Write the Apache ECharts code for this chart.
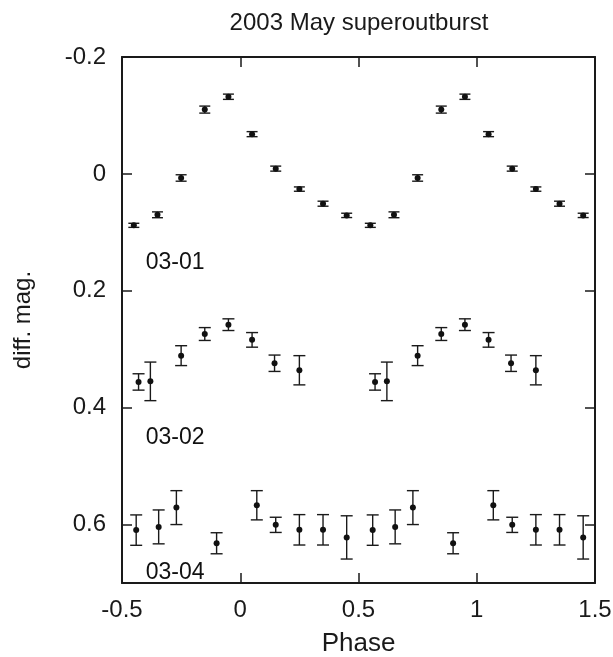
<!DOCTYPE html>
<html>
<head>
<meta charset="utf-8">
<script src="https://cdn.jsdelivr.net/npm/echarts@6/dist/echarts.min.js"></script>
<style>
html,body{margin:0;padding:0;background:#fff;}
#chart{width:613px;height:657px;}
</style>
</head>
<body>
<div id="chart"></div>
<script>
// ---- Data ----
const titleText = '2003 May superoutburst';
const xName = 'Phase';
const yName = 'diff. mag.';
const xTicks = [-0.5, 0, 0.5, 1, 1.5];
const yTicks = [-0.2, 0, 0.2, 0.4, 0.6];

// 2003-03-01
const phase0301 = [-0.45,-0.35,-0.25,-0.15,-0.05,0.05,0.15,0.25,0.35,0.45,0.55,0.65,0.75,0.85,0.95,1.05,1.15,1.25,1.35,1.45];
const mag0301   = [0.088,0.070,0.007,-0.110,-0.132,-0.068,-0.009,0.026,0.051,0.071,0.088,0.070,0.007,-0.110,-0.132,-0.068,-0.009,0.026,0.051,0.071];
const err0301   = [0.0035,0.005,0.0055,0.006,0.0045,0.0043,0.0043,0.0037,0.0043,0.0037,0.0035,0.005,0.0055,0.006,0.0045,0.0043,0.0043,0.0037,0.0043,0.0037];

// 2003-03-02
const phase0302 = [-0.43,-0.38,-0.25,-0.15,-0.05,0.05,0.145,0.25,0.57,0.62,0.75,0.85,0.95,1.05,1.145,1.25];
const mag0302   = [0.356,0.355,0.311,0.274,0.258,0.284,0.324,0.336,0.356,0.355,0.311,0.274,0.258,0.284,0.324,0.336];
const err0302   = [0.014,0.033,0.017,0.011,0.010,0.0125,0.014,0.025,0.014,0.033,0.017,0.011,0.010,0.0125,0.014,0.025];

// 2003-03-04
const phase0304 = [-0.44,-0.345,-0.27,-0.10,0.07,0.15,0.25,0.35,0.45,0.56,0.655,0.73,0.90,1.07,1.15,1.25,1.35,1.45];
const mag0304   = [0.6095,0.604,0.571,0.632,0.567,0.6005,0.609,0.609,0.622,0.6095,0.604,0.571,0.632,0.567,0.6005,0.609,0.609,0.622];
const err0304   = [0.026,0.029,0.029,0.018,0.025,0.013,0.026,0.026,0.037,0.026,0.029,0.029,0.018,0.025,0.013,0.026,0.026,0.037];

const nightLabels = ['03-01','03-02','03-04'];
const nightLabelX = [-0.4,-0.4,-0.4];
const nightLabelY = [0.152,0.452,0.682];

// ---- Build chart ----
const FONT = '"Liberation Sans", Arial, Helvetica, sans-serif';
const INK = '#1a1a1a';

function pts(ph, mg){ return ph.map((p,i)=>[p, mg[i]]); }
function errs(ph, mg, er){ return ph.map((p,i)=>[p, mg[i]-er[i], mg[i]+er[i]]); }

function errorRender(capHalf){
  return function(params, api){
    const x = api.value(0);
    const lo = api.coord([x, api.value(1)]);
    const hi = api.coord([x, api.value(2)]);
    const style = {stroke: INK, lineWidth: 1.4, fill: null};
    return {
      type: 'group',
      children: [
        {type:'line', shape:{x1:lo[0], y1:lo[1], x2:hi[0], y2:hi[1]}, style: style},
        {type:'line', shape:{x1:lo[0]-capHalf, y1:lo[1], x2:lo[0]+capHalf, y2:lo[1]}, style: style},
        {type:'line', shape:{x1:hi[0]-capHalf, y1:hi[1], x2:hi[0]+capHalf, y2:hi[1]}, style: style}
      ]
    };
  };
}

const series = [];
[[phase0301,mag0301,err0301,5.5],[phase0302,mag0302,err0302,6],[phase0304,mag0304,err0304,6]].forEach(([ph,mg,er,cap])=>{
  series.push({
    type:'custom', renderItem: errorRender(cap), data: errs(ph,mg,er),
    encode:{x:0, y:[1,2]}, silent:true, z:2
  });
  series.push({
    type:'scatter', data: pts(ph,mg), symbol:'circle', symbolSize:6,
    itemStyle:{color:'#111', opacity:1}, silent:true, z:3
  });
});
series.push({
  type:'scatter', symbolSize:0, silent:true,
  itemStyle:{opacity:1},
  data: nightLabels.map((t,i)=>({name:t, value:[nightLabelX[i], nightLabelY[i]]})),
  label:{show:true, position:'right', distance:0, formatter:'{b}', color:'#111', opacity:1, fontFamily:FONT, fontSize:23}
});

const axisLineStyle = {color: INK, width: 2};
const option = {
  animation:false,
  backgroundColor:'#fff',
  title:{
    text:titleText, left:354, top:6, textAlign:'center',
    textStyle:{fontFamily:FONT, fontSize:24, fontWeight:'normal', color:INK}
  },
  grid:{left:122, right:18, top:57, bottom:74, containLabel:false, outerBoundsMode:'none'},
  xAxis:[{
    type:'value', min:xTicks[0], max:xTicks[xTicks.length-1], interval:0.5,
    name:xName, nameLocation:'middle', nameGap:48,
    nameTextStyle:{fontFamily:FONT, fontSize:26, color:INK},
    axisLine:{show:true, onZero:false, lineStyle:axisLineStyle},
    axisTick:{show:true, inside:true, length:10, lineStyle:{color:INK, width:1.5}},
    axisLabel:{fontFamily:FONT, fontSize:24, color:INK, margin:15, formatter:v=>String(v)},
    splitLine:{show:false}
  },{
    type:'value', position:'top', min:xTicks[0], max:xTicks[xTicks.length-1], interval:0.5,
    axisLine:{show:true, onZero:false, lineStyle:axisLineStyle},
    axisTick:{show:true, inside:true, length:10, lineStyle:{color:INK, width:1.5}},
    axisLabel:{show:false}, splitLine:{show:false}
  }],
  yAxis:[{
    type:'value', inverse:true, min:yTicks[0], max:0.7, interval:0.2,
    name:yName, nameLocation:'middle', nameGap:87, nameRotate:90,
    nameTextStyle:{fontFamily:FONT, fontSize:24, color:INK},
    axisLine:{show:true, onZero:false, lineStyle:axisLineStyle},
    axisTick:{show:true, inside:true, length:10, lineStyle:{color:INK, width:1.5}},
    axisLabel:{fontFamily:FONT, fontSize:24, color:INK, margin:16, showMaxLabel:false,
      formatter:v=> (Math.abs(v) < 1e-9 ? '0' : String(Math.round(v*10)/10))},
    splitLine:{show:false}
  },{
    type:'value', inverse:true, position:'right', min:yTicks[0], max:0.7, interval:0.2,
    axisLine:{show:true, onZero:false, lineStyle:axisLineStyle},
    axisTick:{show:true, inside:true, length:10, lineStyle:{color:INK, width:1.5}},
    axisLabel:{show:false}, splitLine:{show:false}
  }],
  series: series
};

const chart = echarts.init(document.getElementById('chart'), null, {renderer:'canvas'});
chart.setOption(option);
</script>
</body>
</html>
